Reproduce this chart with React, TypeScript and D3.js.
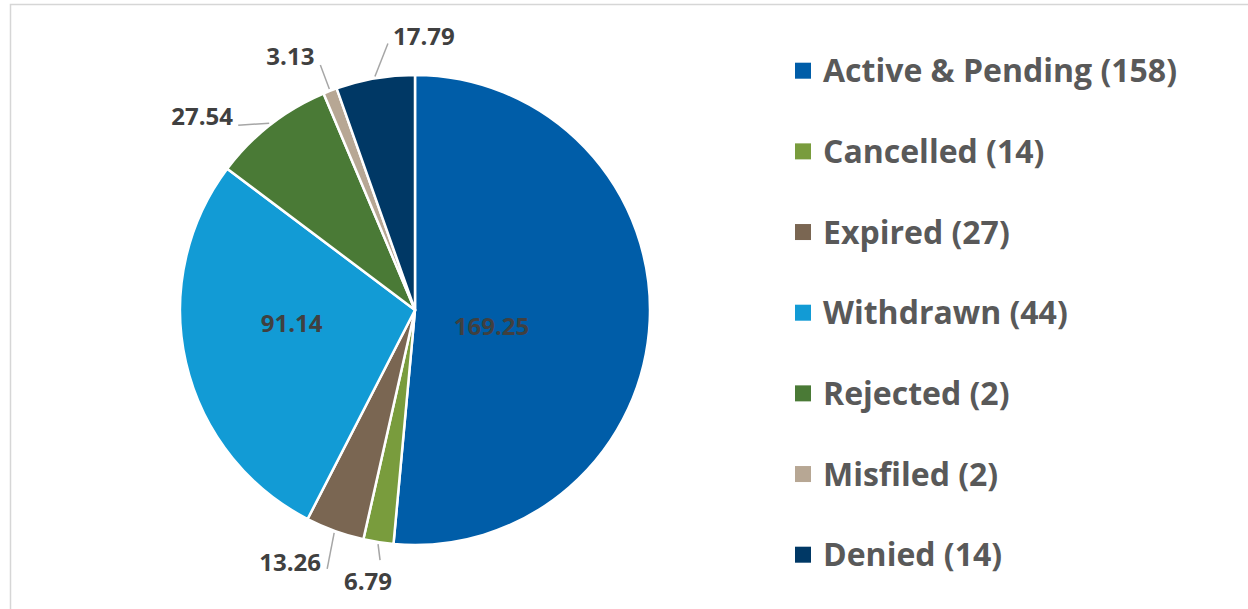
import React, { useMemo } from "react";
import * as d3 from "d3";

const WIDTH = 1248;
const HEIGHT = 609;
const CENTER = { x: 415, y: 310 };
const RADIUS = 235;

// chart data
const categories = ["Active & Pending", "Cancelled", "Expired", "Withdrawn", "Rejected", "Misfiled", "Denied"];
const values = [169.25, 6.79, 13.26, 91.14, 27.54, 3.13, 17.79];
const counts = [158, 14, 27, 44, 2, 2, 14];
const colors = ["#005da8", "#799c3d", "#7a6652", "#129bd5", "#4a7a36", "#b7a794", "#003865"];

// label placement: inside labels sit at a fraction of the radius (plus a nudge),
// outside labels hang off the rim with a leader (leader end, label centre)
const INSIDE_LABELS: Record<string, { f: number; dx: number; dy: number }> = {
  "Active & Pending": { f: 0.36, dx: -8, dy: 12 },
  Withdrawn: { f: 0.53, dx: -2, dy: -15 },
};
const OUTSIDE_LABELS: Record<string, { lx: number; ly: number; tx: number; ty: number }> = {
  Cancelled: { lx: 2, ly: 16, tx: -10, ty: 36 },
  Expired: { lx: -7, ly: 36, tx: -44, ty: 29 },
  Rejected: { lx: -31, ly: 2, tx: -67, ty: -8 },
  Misfiled: { lx: -9, ly: -24, tx: -39, ty: -34 },
  Denied: { lx: 13, ly: -33, tx: 49, ty: -41 },
};

const FONT = "'Open Sans', Lato, sans-serif";

export default function App() {
  const data = categories.map((name, i) => ({ name, value: values[i], count: counts[i], color: colors[i] }));

  const arcs = useMemo(() => {
    return d3
      .pie<{ name: string; value: number }>()
      .sort(null)
      .value((d) => d.value)(data);
  }, []);

  const arcGen = d3.arc<d3.PieArcDatum<any>>().innerRadius(0).outerRadius(RADIUS);

  // point at radius r along the middle of a slice
  const midPoint = (a: d3.PieArcDatum<any>, r: number) => {
    const mid = (a.startAngle + a.endAngle) / 2;
    return [Math.sin(mid) * r, -Math.cos(mid) * r];
  };

  const legendY = d3.scaleLinear().domain([0, categories.length - 1]).range([70.7, 554.7]);

  const fmt = d3.format(".2f");

  return (
    <svg width={WIDTH} height={HEIGHT} style={{ position: "absolute", left: 0, top: 0, background: "#fff" }}>
      <rect x={10.5} y={4.5} width={WIDTH + 20} height={HEIGHT + 20} fill="#fff" stroke="#d6d6d6" strokeWidth={1.5} />
      <g transform={`translate(${CENTER.x},${CENTER.y})`}>
        {arcs.map((a, i) => (
          <path key={i} d={arcGen(a) || ""} fill={data[i].color} stroke="#fff" strokeWidth={2.5} strokeLinejoin="round" />
        ))}
        {arcs.map((a, i) => {
          const d = data[i];
          const inside = INSIDE_LABELS[d.name];
          if (inside) {
            const [cx, cy] = midPoint(a, RADIUS * inside.f);
            return (
              <text
                key={"l" + i}
                x={cx + inside.dx}
                y={cy + inside.dy}
                textAnchor="middle"
                dominantBaseline="central"
                fontFamily={FONT}
                fontWeight={700}
                fontSize={24}
                fill="#404040"
              >
                {fmt(d.value)}
              </text>
            );
          }
          const out = OUTSIDE_LABELS[d.name];
          const [sx, sy] = midPoint(a, RADIUS + 2);
          return (
            <g key={"l" + i}>
              <line x1={sx} y1={sy} x2={sx + out.lx} y2={sy + out.ly} stroke="#a6a6a6" strokeWidth={1.5} />
              <text
                x={sx + out.tx}
                y={sy + out.ty}
                textAnchor="middle"
                dominantBaseline="central"
                fontFamily={FONT}
                fontWeight={700}
                fontSize={24}
                fill="#404040"
              >
                {fmt(d.value)}
              </text>
            </g>
          );
        })}
      </g>
      <g>
        {data.map((d, i) => (
          <g key={i} transform={`translate(795,${legendY(i)})`}>
            <rect x={0} y={-8} width={16} height={16} fill={d.color} />
            <text x={28} y={11.5} fontFamily={FONT} fontWeight={700} fontSize={32} fill="#595959">
              {`${d.name} (${d.count})`}
            </text>
          </g>
        ))}
      </g>
    </svg>
  );
}
